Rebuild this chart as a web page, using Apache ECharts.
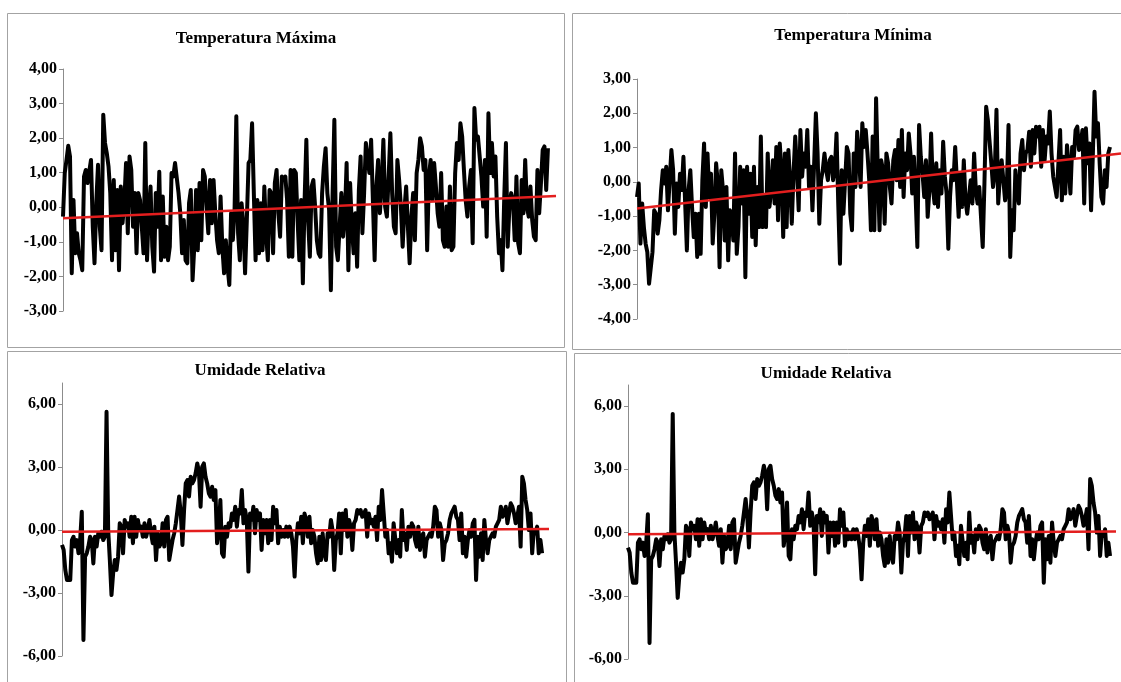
<!DOCTYPE html>
<html><head><meta charset="utf-8">
<script src="https://cdn.jsdelivr.net/npm/echarts@6/dist/echarts.min.js"></script>
<style>html,body{margin:0;padding:0;background:#fff}#c{width:1121px;height:682px}</style>
</head><body><div id="c"></div>
<script>
const titles = ['Temperatura Máxima', 'Temperatura Mínima', 'Umidade Relativa', 'Umidade Relativa'];

const tmax = [-0.27,0.99,1.37,1.78,1.47,-1.91,0.21,-1.33,-0.75,-1.33,-1.53,-1.82,0.89,1.08,0.70,0.70,1.37,-0.56,-1.62,0.12,1.23,-0.56,-1.24,2.68,1.86,1.57,1.18,0.41,-1.53,0.79,-1.24,0.50,-1.82,0.60,-0.46,0.12,1.28,-0.75,1.47,1.08,-0.56,0.41,-1.33,0.41,0.21,-0.56,-1.33,1.86,-1.53,-0.08,0.60,-1.14,-1.86,0.41,-0.56,1.03,-1.53,0.31,-1.43,-0.56,-1.53,-1.14,0.99,0.89,1.28,1.28,0.41,-0.17,-1.33,-0.37,-1.53,-1.62,0.12,0.50,-2.11,-1.14,0.50,-1.24,0.70,-0.95,1.08,0.89,0.02,-0.75,0.79,-0.46,0.79,-0.17,-0.95,-1.33,0.31,-1.14,-1.91,-0.95,-1.72,-2.25,-0.17,-0.95,-0.08,2.63,-0.75,-1.53,0.12,-0.46,-1.91,-0.37,1.28,1.37,2.43,0.41,-1.53,0.21,-1.33,0.12,-1.24,0.60,-0.75,-1.53,0.50,0.41,-1.33,0.70,1.08,-0.17,-0.85,0.89,0.79,0.89,0.21,-1.43,1.08,
-1.43,1.08,0.99,-0.37,-1.53,0.21,-2.20,0.21,1.95,-0.37,-1.43,0.60,0.79,0.02,-0.95,-1.33,-1.43,0.41,1.18,1.71,0.41,-0.08,-2.40,0.41,2.53,-1.14,-1.53,-0.56,0.41,-0.85,-0.27,1.28,-1.82,0.70,-0.56,-1.33,-0.17,-1.72,0.50,1.47,-0.75,0.41,1.86,1.86,0.99,1.95,0.21,-1.53,0.60,1.37,-0.17,0.60,1.95,0.02,-0.27,0.89,2.14,0.41,-0.56,-0.75,1.37,0.79,0.02,-1.14,-0.08,0.60,-0.56,-1.62,-0.27,0.41,-0.95,0.99,1.37,2.00,1.76,1.08,1.37,-1.24,0.89,1.37,0.21,1.28,0.60,-0.17,-0.56,0.99,-0.95,-1.14,0.02,-1.14,0.60,-1.24,-1.14,0.99,1.86,1.37,2.43,2.05,1.08,0.21,-0.27,0.60,1.08,-1.04,2.87,1.95,2.05,1.47,0.89,0.02,1.37,-0.85,2.72,0.99,1.86,0.89,1.47,-0.27,-1.33,-0.95,-1.82,0.21,1.86,-1.14,0.02,0.41,0.21,-0.95,0.89,-1.04,-1.33,0.79,-0.17,1.37,0.02,-0.27,0.60,-0.37,-0.85,-0.95,1.08,-0.17,0.70,1.66,1.76,0.50,1.71];

const tmin = [-0.44,-0.05,-1.80,-0.63,-1.32,-1.80,-2.05,-2.97,-3.02,-2.05,-0.83,-0.93,-1.51,-1.12,-0.24,0.34,-0.05,0.44,-0.83,0.05,0.93,0.34,-1.51,-0.05,-0.73,0.24,-0.24,0.73,-0.63,-2.00,-0.24,0.34,-0.73,-1.61,-0.93,-2.19,-0.93,-2.10,0.05,1.12,-0.73,0.83,-0.44,0.24,-1.80,-0.93,0.54,-0.05,-2.49,0.34,-0.24,-1.71,-0.15,-2.29,-0.83,-0.93,-1.71,0.83,-2.10,-1.32,0.44,-0.63,0.34,-2.78,0.44,-0.93,0.24,-1.61,0.44,-1.85,-0.15,-1.32,1.32,-1.32,-0.44,-1.32,0.83,-0.73,-0.24,0.63,-0.63,1.02,-1.12,1.12,0.34,-1.61,0.83,-1.32,0.93,0.05,-1.22,0.24,1.32,0.34,-0.83,1.51,0.15,0.83,0.44,1.51,-0.15,0.44,-0.83,0.54,2.00,0.83,-1.22,0.05,0.34,0.83,0.34,0.05,0.63,0.73,0.05,0.34,1.41,-0.63,-2.39,0.34,-0.93,0.05,1.02,0.83,-0.93,-1.41,0.83,-0.15,1.46,0.83,-0.15,1.71,
1.02,1.51,0.83,0.05,-1.41,1.32,-1.41,2.44,0.34,-1.41,0.63,0.34,-1.22,0.83,0.54,-0.15,-0.63,0.63,0.93,0.05,1.22,-0.15,1.51,-0.44,0.83,0.34,1.41,0.83,-0.34,0.73,-0.44,-1.90,1.66,0.73,0.24,-0.44,0.63,-1.02,-0.24,1.41,-0.15,-0.63,0.54,-0.73,0.34,-0.34,1.17,0.15,-0.34,-1.95,-0.44,0.34,0.05,1.02,1.02,-1.02,0.24,-0.73,0.63,-0.54,-0.93,-0.93,0.05,-0.63,0.83,-0.24,-0.63,-0.15,-0.15,-1.90,-0.05,2.19,1.80,1.80,0.54,-0.15,0.24,2.10,-0.63,0.15,0.63,0.05,-0.54,-0.24,1.66,-2.19,-0.83,-1.41,0.34,-0.24,-0.63,0.83,1.22,0.34,0.83,0.93,1.46,0.44,1.51,0.83,1.61,1.32,1.61,0.44,1.51,0.63,1.32,1.12,2.05,0.83,0.15,-0.15,-0.44,0.54,1.51,-0.54,0.73,-0.34,1.07,0.44,-0.34,1.02,0.73,1.51,1.61,0.93,1.12,1.51,-0.63,1.56,0.54,1.12,-0.83,0.73,2.63,1.32,1.71,0.54,-0.44,-0.63,0.34,-0.15,0.83,1.02];

const ur = [-0.71,-0.95,-1.90,-2.38,-2.46,-2.38,-0.48,-0.32,-0.79,-0.48,-1.11,-0.48,0.87,-5.24,-1.27,-1.11,-0.79,-0.32,-0.48,-1.59,-0.32,-0.79,-0.16,-0.32,-0.08,-0.48,-0.32,5.63,0.00,-1.43,-3.10,-2.06,-1.43,-1.90,-1.27,0.32,0.16,-1.11,0.48,0.16,0.32,-0.32,0.63,-0.63,0.63,-0.32,0.48,0.00,0.16,-0.32,0.32,-0.32,0.00,0.48,-0.16,-0.63,0.16,-1.43,-0.16,-0.79,-0.63,0.32,-0.79,0.48,0.63,-1.43,-0.95,-0.48,-0.16,0.32,0.95,1.59,0.79,-0.71,0.95,2.22,2.38,1.59,2.54,2.22,2.38,2.70,3.17,2.78,1.11,3.02,3.17,2.54,2.22,1.75,1.59,2.06,1.43,1.90,-0.63,0.00,1.43,-1.11,-1.27,0.16,-0.32,0.32,0.16,0.79,0.48,1.11,0.16,0.95,0.79,1.90,0.32,0.95,0.48,-1.98,0.79,0.48,1.11,-0.16,0.95,0.48,0.79,-0.95,0.48,-0.16,0.48,-0.63,0.48,-0.48,1.11,0.32,0.95,-0.63,0.16,-0.32,0.00,-0.32,0.16,-0.32,0.16,-0.16,-0.79,-2.22,-0.48,0.32,-0.16,0.63,-0.63,0.79,
0.48,-0.32,0.63,-0.63,0.00,-0.32,-1.11,-1.59,-0.32,-1.43,-0.16,-1.11,-1.43,-0.16,-0.32,0.48,0.00,-1.90,-0.48,-0.16,0.79,-1.11,0.79,0.00,0.95,-0.32,0.48,0.16,-0.95,0.32,0.48,0.95,0.79,0.95,0.63,0.63,0.95,-0.32,0.79,0.32,0.48,0.16,0.63,-0.48,1.11,0.48,1.90,0.79,-0.32,0.00,-1.11,-0.63,-1.51,0.32,0.32,-1.11,-0.48,-1.27,0.95,-0.48,-0.16,-0.95,0.16,-0.32,0.32,0.16,-0.48,-0.79,0.16,-0.95,-0.32,-0.16,-1.27,-0.48,-0.32,-0.16,-0.32,0.16,1.11,0.95,-0.32,0.32,0.00,-1.43,-0.63,-0.48,-0.16,0.48,0.79,0.95,1.11,0.63,0.48,-0.48,0.79,-1.11,-0.32,-1.27,-0.48,0.00,-0.32,0.32,0.48,-2.38,-0.32,-1.27,-0.16,-1.43,0.48,-0.48,-1.11,-0.48,-0.32,-0.16,-0.32,0.16,0.32,0.48,1.11,0.63,0.79,1.11,0.32,0.79,1.27,1.11,0.79,0.32,0.63,1.11,-0.79,2.54,2.22,1.43,0.95,0.00,0.79,-1.11,0.00,-0.16,0.16,-1.11,-0.48,-1.11];

// linear trend lines: value at first point, value at end of the line
const tmaxTrend = [-0.32, 0.33];
const tminTrend = [-0.78, 0.83];
const urTrend = [-0.08, 0.05];

const ticksTmax = [-3, -2, -1, 0, 1, 2, 3, 4];
const ticksTmin = [-4, -3, -2, -1, 0, 1, 2, 3];
const ticksUr = [-6, -3, 0, 3, 6];

const panels = [
  {data: tmax, trend: tmaxTrend, ticks: ticksTmax, min: -3, max: 4, interval: 1, ext: 4.6,
   grid: {left: 63, top: 69, width: 493, height: 242}, title: [256, 40], box: [7.5, 13.5, 557, 334]},
  {data: tmin, trend: tminTrend, ticks: ticksTmin, min: -4, max: 3, interval: 1, ext: 6.4,
   grid: {left: 637, top: 79, width: 484, height: 240}, title: [853, 37], box: [572.5, 13.5, 560, 336]},
  {data: ur, trend: urTrend, ticks: ticksUr, min: -6, max: 7, interval: 3, ext: 4.2,
   grid: {left: 62, top: 383, width: 487, height: 273}, title: [260, 372], box: [7.5, 351.5, 559, 340]},
  {data: ur, trend: urTrend, ticks: ticksUr, min: -6, max: 7, interval: 3, ext: 3.6,
   grid: {left: 628, top: 385, width: 488, height: 274}, title: [826, 375], box: [574.5, 353.5, 560, 340]}
];

const serif = 'Liberation Serif';
const fmt = v => v.toFixed(2).replace('.', ',');

const option = {
  animation: false,
  backgroundColor: '#fff',
  title: panels.map((p, i) => ({
    text: titles[i], left: p.title[0], top: p.title[1] - 10, textAlign: 'center', padding: 0,
    textStyle: {fontFamily: serif, fontWeight: 'bold', fontSize: 17, color: '#000'}
  })),
  graphic: panels.map(p => ({
    type: 'rect', silent: true, z: -10,
    shape: {x: p.box[0], y: p.box[1], width: p.box[2], height: p.box[3]},
    style: {fill: 'none', stroke: '#a3a3a3', lineWidth: 1}
  })),
  grid: panels.map(p => Object.assign({containLabel: false}, p.grid)),
  xAxis: panels.map((p, i) => ({
    type: 'value', gridIndex: i, min: 0, max: p.data.length - 1 + p.ext, show: false
  })),
  yAxis: panels.map((p, i) => ({
    type: 'value', gridIndex: i, min: p.min, max: p.max, interval: p.interval,
    axisLine: {show: true, lineStyle: {color: '#8c8c8c', width: 1}},
    axisTick: {show: true, length: 4, customValues: p.ticks, lineStyle: {color: '#8c8c8c'}},
    splitLine: {show: false},
    axisLabel: {customValues: p.ticks, margin: 6, formatter: fmt,
      fontFamily: serif, fontWeight: 'bold', fontSize: 16, color: '#000'}
  })),
  series: panels.flatMap((p, i) => [
    {type: 'line', xAxisIndex: i, yAxisIndex: i, showSymbol: false, z: 2,
     data: p.data.map((v, k) => [k, v]),
     lineStyle: {color: '#000', width: 4, join: 'round'}},
    {type: 'line', xAxisIndex: i, yAxisIndex: i, showSymbol: false, z: 3,
     data: [[0, p.trend[0]], [p.data.length - 1 + p.ext, p.trend[1]]],
     lineStyle: {color: '#e31e1e', width: 2.5}}
  ])
};
const chart = echarts.init(document.getElementById('c'));
chart.setOption(option);
</script></body></html>
